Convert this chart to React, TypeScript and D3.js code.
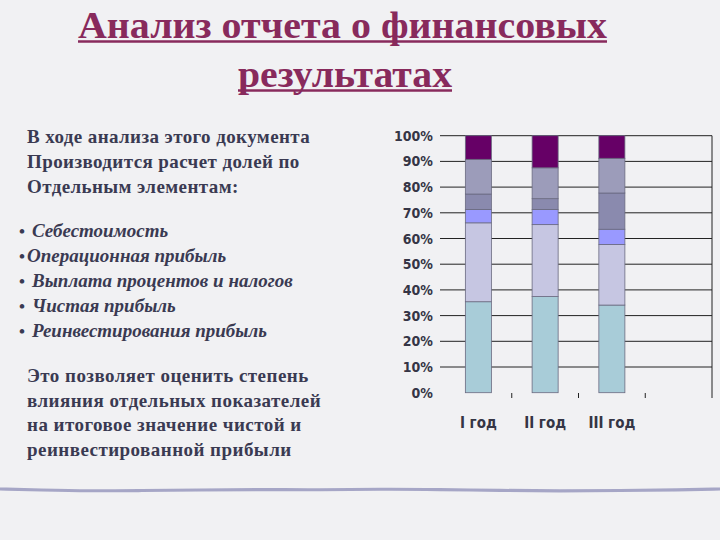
import React from "react";
import * as d3 from "d3";

const years = ["I год", "II год", "III год", ""];
const seriesNames = ["s1", "s2", "s3", "s4", "s5", "s6"];
const s1 = [35.4, 37.4, 34.1];
const s2 = [30.7, 28.0, 23.6];
const s3 = [5.2, 5.9, 5.9];
const s4 = [6.0, 4.2, 14.1];
const s5 = [13.5, 12.0, 13.5];
const s6 = [9.2, 12.5, 8.8];
const seriesColors = ["#a8ccd8", "#c6c6e2", "#9999ff", "#8a8aae", "#9c9cba", "#660066"];
const yTicks = [0, 0.1, 0.2, 0.3, 0.4, 0.5, 0.6, 0.7, 0.8, 0.9, 1.0];

const titleLines = ["Анализ отчета о финансовых", "результатах"];
const introLines = ["В ходе анализа этого документа", "Производится расчет долей по", "Отдельным элементам:"];
const bulletItems = ["Себестоимость", "Операционная прибыль", "Выплата процентов и налогов", "Чистая прибыль", "Реинвестирования прибыль"];
const conclusionLines = ["Это позволяет оценить степень", "влияния отдельных показателей", "на итоговое значение чистой и", "реинвестированной прибыли"];

const wavePts: [number, number][] = [
  [0, 489], [40, 490], [90, 491], [140, 490.5], [200, 490], [260, 489.5], [320, 490], [380, 489], [440, 489.5],
  [500, 490.5], [560, 491], [620, 490.5], [680, 490], [720, 489],
];

export default function App() {
  const W = 720, H = 540;
  const rows = years.slice(0, 3).map((y, i) => ({
    year: y, s1: s1[i], s2: s2[i], s3: s3[i], s4: s4[i], s5: s5[i], s6: s6[i],
  }));
  const stack = d3.stack<any>().keys(seriesNames).offset(d3.stackOffsetExpand);
  const layers = stack(rows);
  const x = d3.scaleBand().domain(years).range([445, 712]).padding(0);
  const y = d3.scaleLinear().domain([0, 1]).range([392.7, 135.7]);
  const barW = x.bandwidth() * 0.39;
  const fmt = d3.format(".0%");
  const line = d3.line().curve(d3.curveBasis);
  const titleColor = "#882a5c";
  const textColor = "#3a3a52";
  const axisFont = "'DejaVu Sans Condensed', 'DejaVu Sans', sans-serif";
  const serif = "'Liberation Serif', 'DejaVu Serif', serif";
  const titleW = [529, 214];
  const titleX = [78, 238];
  const titleY = [38, 87];

  return (
    <svg width={W} height={H} style={{ position: "absolute", left: 0, top: 0 }}>
      <rect x={0} y={0} width={W} height={H} fill="#f1f1f3" />
      {/* title */}
      {titleLines.map((t, i) => (
        <g key={t}>
          <text x={titleX[i]} y={titleY[i]} fontFamily={serif} fontWeight="bold" fontSize={37} fill={titleColor}
            textLength={titleW[i]} lengthAdjust="spacingAndGlyphs">{t}</text>
          <line x1={titleX[i]} x2={titleX[i] + titleW[i]} y1={titleY[i] + 3.5} y2={titleY[i] + 3.5}
            stroke={titleColor} strokeWidth={2.5} />
        </g>
      ))}
      {/* intro */}
      {introLines.map((t, i) => (
        <text key={t} x={27} y={143 + i * 25} fontFamily={serif} fontWeight="bold" fontSize={19} fill={textColor}
          letterSpacing={0.4}>{t}</text>
      ))}
      {bulletItems.map((t, i) => (
        <g key={t}>
          <text x={19} y={237 + i * 25} fontFamily={serif} fontWeight="bold" fontSize={17} fill={textColor}>•</text>
          <text x={i === 1 ? 27 : 32} y={237 + i * 25} fontFamily={serif} fontWeight="bold" fontStyle="italic"
            fontSize={19} fill={textColor}>{t}</text>
        </g>
      ))}
      {conclusionLines.map((t, i) => (
        <text key={t} x={27} y={382 + i * 24.5} fontFamily={serif} fontWeight="bold" fontSize={19} fill={textColor}
          letterSpacing={0.45}>{t}</text>
      ))}
      {/* chart gridlines */}
      {yTicks.filter((d) => d > 0).map((d) => (
        <line key={d} x1={440} x2={712} y1={y(d)} y2={y(d)} stroke="#222" strokeWidth={1} />
      ))}
      <line x1={712} x2={712} y1={y(1)} y2={398} stroke="#222" strokeWidth={1} />
      {years.slice(1).map((yr, i) => (
        <line key={"t" + i} x1={x(yr)!} x2={x(yr)!} y1={393} y2={398} stroke="#222" strokeWidth={1} />
      ))}
      {yTicks.map((d) => (
        <text key={"l" + d} x={433} y={y(d) + 5} textAnchor="end" fontFamily={axisFont} fontWeight="bold"
          fontSize={14} fill="#353545">{fmt(d)}</text>
      ))}
      {/* bars */}
      {layers.map((layer, li) => (
        <g key={li}>
          {layer.map((seg: any, i: number) => {
            const cx = x(rows[i].year)! + x.bandwidth() / 2;
            return (
              <rect key={i} x={cx - barW / 2} y={y(seg[1])} width={barW} height={y(seg[0]) - y(seg[1])}
                fill={seriesColors[li]} stroke="#6a6a80" strokeWidth={0.8} />
            );
          })}
        </g>
      ))}
      {years.slice(0, 3).map((yr) => (
        <text key={yr} x={x(yr)! + x.bandwidth() / 2} y={428} textAnchor="middle" fontFamily={axisFont}
          fontWeight="bold" fontSize={15} fill="#353545">{yr}</text>
      ))}
      {/* decorative line */}
      <path d={line(wavePts) || ""} fill="none" stroke="#a6a6c6" strokeWidth={3.2} strokeLinecap="round" />
    </svg>
  );
}
